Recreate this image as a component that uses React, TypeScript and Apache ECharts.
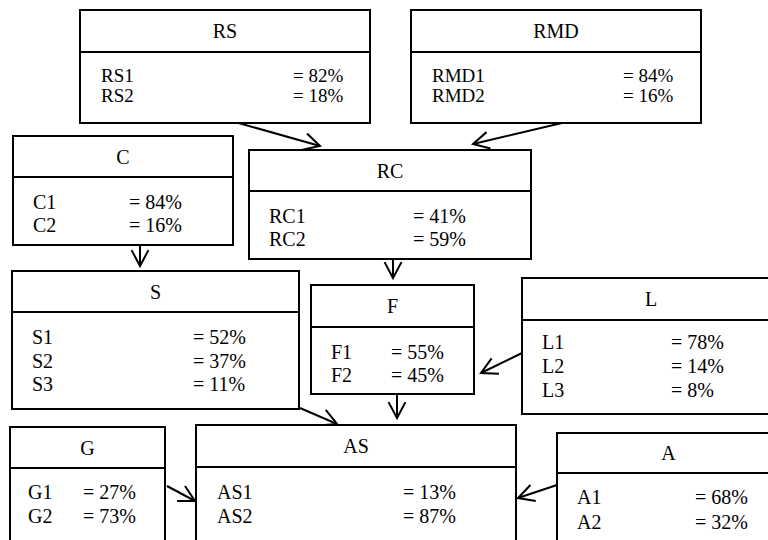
import React, { useEffect, useRef } from "react";
import * as echarts from "echarts";

// ---- data ----
const nodeNames = ["RS", "RMD", "C", "RC", "S", "F", "L", "G", "AS", "A"];
const nodeStates = [
  ["RS1", "RS2"],
  ["RMD1", "RMD2"],
  ["C1", "C2"],
  ["RC1", "RC2"],
  ["S1", "S2", "S3"],
  ["F1", "F2"],
  ["L1", "L2", "L3"],
  ["G1", "G2"],
  ["AS1", "AS2"],
  ["A1", "A2"],
];
const nodeProbs = [
  [82, 18],
  [84, 16],
  [84, 16],
  [41, 59],
  [52, 37, 11],
  [55, 45],
  [78, 14, 8],
  [27, 73],
  [13, 87],
  [68, 32],
];
const edgeFrom = ["RS", "RMD", "C", "RC", "S", "F", "L", "G", "A"];
const edgeTo = ["RC", "RC", "S", "F", "AS", "AS", "F", "AS", "AS"];

// ---- layout (positions in page pixels) ----
// [left, top, right, bottom, headerBottom, firstRowY, rowStep, labelX, valueX, rowFontSize]
const nodeLayout: number[][] = [
  [80, 10, 370, 123, 52, 75.5, 19.5, 101, 293, 19],
  [411, 10, 701, 123, 52, 75.5, 19.5, 432, 623, 19],
  [13, 136, 233, 245, 177, 202, 23, 33, 129, 20],
  [249, 150, 531, 259, 191, 216, 22.5, 269, 413, 20],
  [12, 271, 299, 409, 312, 337, 23.5, 32, 193, 20],
  [311, 285, 474, 394, 327, 352, 23, 331, 391, 20],
  [522, 278, 780, 414, 320, 342, 24, 542, 671, 20],
  [10, 427, 165, 570, 468, 492, 24, 28, 83, 20],
  [196, 425, 516, 570, 467, 492, 24, 217, 403, 20],
  [557, 433, 780, 570, 473, 497, 25, 577, 695, 20],
];
// [x1, y1, x2 (tip), y2 (tip)]
const edgeLayout: number[][] = [
  [235, 122, 320, 146],
  [562, 123, 473, 144],
  [140, 245, 140, 266],
  [393, 259, 393, 278],
  [300, 408, 337, 424],
  [397, 394, 397, 418],
  [522, 353, 481, 373],
  [167, 486, 195, 501],
  [557, 485, 518, 498],
];

const FONT = "Liberation Serif";
const FS = 20;
const LW = 2;

export default function App() {
  const ref = useRef<HTMLDivElement>(null);

  useEffect(() => {
    if (!ref.current) return;
    const chart = echarts.init(ref.current, null, { renderer: "svg" });

    const txt = (text: string, x: number, y: number, align: string, size: number) => ({
      type: "text",
      style: {
        text,
        x,
        y,
        fill: "#000",
        fontSize: size,
        fontFamily: FONT,
        align,
        verticalAlign: "middle",
      },
    });

    const nodeRender = (params: any, api: any) => {
      const i = params.dataIndex;
      const L = nodeLayout[i];
      const p0 = api.coord([L[0], L[1]]);
      const p1 = api.coord([L[2], L[3]]);
      const ph = api.coord([L[0], L[4]]);
      const children: any[] = [];
      children.push({
        type: "rect",
        shape: { x: p0[0], y: p0[1], width: p1[0] - p0[0], height: p1[1] - p0[1] },
        style: { fill: "#fff", stroke: "#000", lineWidth: LW },
      });
      children.push({
        type: "line",
        shape: { x1: p0[0], y1: ph[1], x2: p1[0], y2: ph[1] },
        style: { stroke: "#000", lineWidth: LW },
      });
      const tc = api.coord([(L[0] + L[2]) / 2, (L[1] + L[4]) / 2]);
      children.push(txt(nodeNames[i], tc[0], tc[1], "center", FS));
      nodeStates[i].forEach((s, k) => {
        const ry = L[5] + k * L[6];
        const pl = api.coord([L[7], ry]);
        const pv = api.coord([L[8], ry]);
        children.push(txt(s, pl[0], pl[1], "left", L[9]));
        children.push(txt(`= ${nodeProbs[i][k]}%`, pv[0], pv[1], "left", L[9]));
      });
      return { type: "group", children };
    };

    const edgeRender = (params: any, api: any) => {
      const i = params.dataIndex;
      const E = edgeLayout[i];
      const a = api.coord([E[0], E[1]]);
      const b = api.coord([E[2], E[3]]);
      const ang = Math.atan2(b[1] - a[1], b[0] - a[0]);
      const len = 18;
      const half = (28 * Math.PI) / 180;
      const w1 = [b[0] - len * Math.cos(ang - half), b[1] - len * Math.sin(ang - half)];
      const w2 = [b[0] - len * Math.cos(ang + half), b[1] - len * Math.sin(ang + half)];
      return {
        type: "group",
        children: [
          {
            type: "line",
            shape: { x1: a[0], y1: a[1], x2: b[0], y2: b[1] },
            style: { stroke: "#000", lineWidth: LW },
          },
          {
            type: "polyline",
            shape: { points: [w1, [b[0], b[1]], w2] },
            style: { stroke: "#000", lineWidth: LW, fill: "none" },
          },
        ],
      };
    };

    chart.setOption({
      animation: false,
      backgroundColor: "#fff",
      grid: { left: 0, right: 0, top: 0, bottom: 0 },
      xAxis: { type: "value", min: 0, max: 768, show: false },
      yAxis: { type: "value", min: 0, max: 540, inverse: true, show: false },
      series: [
        {
          type: "custom",
          name: "edges",
          renderItem: edgeRender,
          data: edgeFrom.map((f, i) => [i, f, edgeTo[i]]),
          encode: { x: 0, y: 0 },
          silent: true,
          clip: false,
        },
        {
          type: "custom",
          name: "nodes",
          renderItem: nodeRender,
          data: nodeNames.map((n, i) => [i, n]),
          encode: { x: 0, y: 0 },
          silent: true,
          clip: false,
        },
      ],
    });

    return () => chart.dispose();
  }, []);

  return (
    <div
      ref={ref}
      style={{ position: "fixed", left: 0, top: 0, width: 768, height: 540, background: "#fff" }}
    />
  );
}
